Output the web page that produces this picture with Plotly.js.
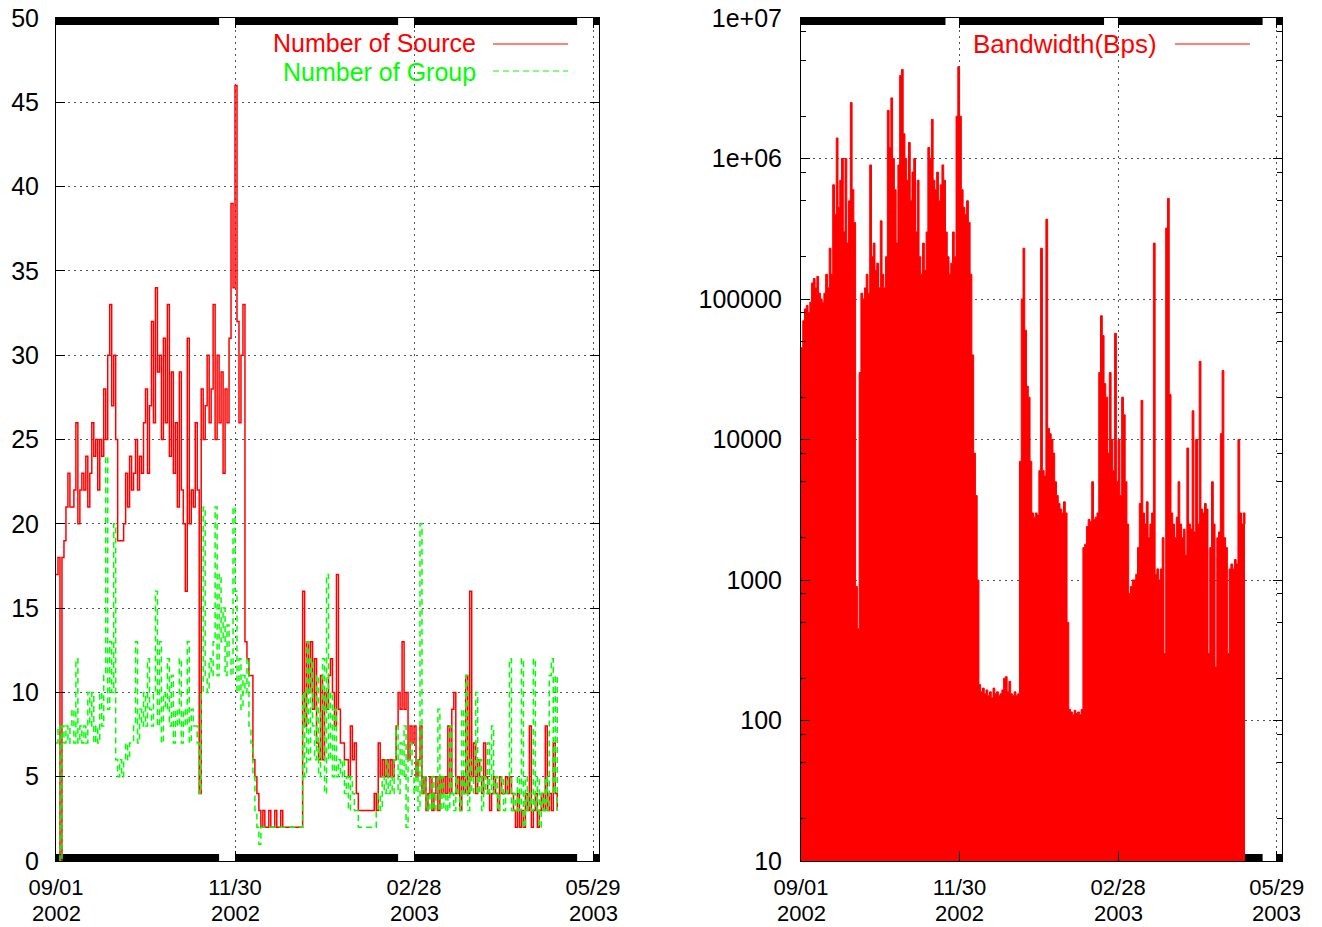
<!DOCTYPE html>
<html>
<head>
<meta charset="utf-8">
<script src="https://cdn.plot.ly/plotly-3.0.1.min.js"></script>
<style>html,body{margin:0;padding:0;background:#fff}#chart{width:1322px;height:927px}</style>
</head>
<body>
<div id="chart"></div>
<script>
// ---- data (one value per day, starting 2002-09-01) ----
const startDate = '2002-09-01';

const source = [
  17, 18, 0, 18, 19, 21, 23, 21, 21, 22,
  26, 20, 22, 23, 22, 24, 21, 23, 26, 24,
  25, 22, 25, 24, 28, 25, 30, 33, 27, 30,
  25, 19, 19, 19, 20, 23, 21, 24, 22, 23,
  25, 22, 24, 23, 26, 28, 23, 27, 32, 26,
  34, 29, 30, 25, 31, 26, 33, 24, 29, 23,
  26, 21, 29, 22, 20, 16, 31, 20, 22, 21,
  26, 22, 4, 28, 25, 27, 30, 26, 28, 33,
  25, 30, 26, 29, 23, 28, 26, 31, 39, 34,
  46, 32, 26, 30, 33, 13, 12, 11, 11, 6,
  5, 4, 3, 2, 3, 2, 2, 3, 2, 2,
  3, 2, 2, 3, 2, 2, 2, 2, 2, 2,
  2, 2, 2, 2, 16, 8, 13, 10, 13, 9,
  12, 7, 6, 11, 6, 10, 9, 11, 12, 10,
  8, 17, 9, 7, 7, 6, 6, 5, 8, 6,
  7, 4, 3, 3, 3, 3, 3, 3, 3, 3,
  4, 3, 7, 5, 6, 5, 6, 5, 6, 5,
  6, 8, 10, 9, 13, 9, 10, 6, 8, 7,
  8, 5, 6, 8, 4, 5, 3, 4, 5, 3,
  4, 5, 3, 5, 4, 5, 4, 8, 4, 9,
  10, 4, 5, 3, 5, 4, 11, 4, 16, 5,
  7, 4, 6, 5, 4, 7, 5, 4, 3, 4,
  5, 4, 3, 5, 4, 4, 5, 4, 5, 4,
  3, 2, 4, 2, 3, 2, 4, 3, 8, 2,
  3, 4, 2, 3, 4, 3, 8, 3, 4, 3,
  7, 4, 3
];

const group = [
  7, 8, 0, 8, 7, 8, 7, 8, 9, 7,
  12, 7, 8, 7, 8, 7, 10, 8, 10, 7,
  8, 7, 10, 8, 11, 24, 9, 13, 10, 20,
  6, 5, 6, 5, 6, 7, 6, 7, 7, 8,
  13, 7, 9, 8, 10, 8, 12, 9, 8, 10,
  16, 8, 13, 7, 10, 9, 12, 8, 11, 7,
  9, 8, 12, 7, 9, 8, 13, 7, 9, 8,
  8, 7, 4, 10, 21, 11, 10, 12, 11, 13,
  21, 11, 17, 13, 15, 11, 14, 12, 11, 21,
  16, 10, 12, 9, 11, 10, 12, 8, 7, 5,
  3, 2, 1, 2, 2, 2, 2, 2, 2, 2,
  2, 2, 2, 2, 2, 2, 2, 2, 2, 2,
  2, 2, 2, 2, 10, 5, 13, 6, 12, 8,
  6, 11, 5, 9, 12, 4, 17, 6, 10, 5,
  9, 5, 6, 5, 6, 4, 5, 3, 5, 4,
  3, 3, 2, 2, 2, 2, 2, 2, 2, 2,
  2, 3, 4, 3, 5, 4, 6, 4, 5, 4,
  6, 8, 4, 7, 5, 8, 2, 6, 7, 5,
  4, 6, 3, 20, 4, 5, 3, 4, 3, 5,
  3, 4, 9, 3, 5, 3, 4, 3, 8, 4,
  3, 5, 4, 3, 9, 4, 11, 3, 6, 4,
  5, 10, 4, 6, 3, 5, 4, 7, 4, 8,
  4, 5, 3, 4, 5, 3, 4, 5, 12, 3,
  4, 3, 5, 3, 12, 2, 5, 3, 4, 3,
  12, 3, 5, 2, 4, 3, 5, 3, 11, 12,
  4, 11, 3
];

const bandwidth = [
  45000, 70000, 85000, 90000, 80000, 95000, 130000, 140000, 120000, 145000,
  110000, 100000, 95000, 110000, 150000, 120000, 230000, 150000, 650000, 400000,
  1400000, 450000, 700000, 1000000, 300000, 1000000, 250000, 500000, 2500000, 600000,
  350000, 900, 450, 30000, 110000, 100000, 120000, 150000, 110000, 900000,
  200000, 250000, 160000, 180000, 120000, 360000, 150000, 120000, 200000, 2200000,
  1200000, 2700000, 1000000, 600000, 250000, 900000, 3900000, 4300000, 1500000, 1000000,
  700000, 1300000, 500000, 800000, 1000000, 300000, 700000, 200000, 150000, 250000,
  160000, 300000, 1200000, 1000000, 1900000, 700000, 600000, 800000, 500000, 650000,
  900000, 700000, 300000, 200000, 150000, 180000, 300000, 200000, 2000000, 4500000,
  2000000, 600000, 450000, 400000, 500000, 350000, 150000, 40000, 8000, 4000,
  1000, 180, 160, 170, 155, 165, 150, 160, 145, 170,
  155, 160, 150, 155, 165, 200, 205, 160, 190, 155,
  150, 160, 150, 155, 7000, 100000, 230000, 60000, 24000, 20000,
  7000, 3000, 2800, 3000, 2900, 6000, 230000, 6000, 5500, 370000,
  12000, 11000, 10000, 8000, 5000, 4000, 3500, 3200, 3000, 3600,
  3000, 500, 120, 115, 110, 118, 112, 115, 110, 120,
  1700, 1800, 2400, 2700, 2600, 5000, 2700, 2800, 3000, 30000,
  76000, 55000, 25000, 20000, 8000, 30000, 10000, 6000, 57000, 5000,
  10000, 4000, 20000, 15000, 5000, 2500, 800, 900, 1000, 1000,
  1100, 1700, 3500, 19000, 3000, 2500, 3600, 2000, 2500, 3000,
  250000, 1100, 1200, 1000, 1200, 2000, 300, 320000, 520000, 21000,
  3000, 2500, 2000, 2800, 5000, 2500, 2000, 2300, 1500, 8700,
  2500, 2300, 16000, 2200, 10000, 2500, 36000, 3200, 3000, 3500,
  3200, 300, 1700, 5000, 2500, 240, 2000, 2200, 11000, 31000,
  2000, 1700, 300, 1200, 1300, 1200, 1400, 1300, 10000, 3000,
  2500, 3000, 2500
];

// ---- tick labels / axis values ----
const xRange = ['2002-09-01', '2003-06-01'];
const xTickDates = ['2002-09-01', '2002-11-30', '2003-02-28', '2003-05-29'];
const xTickDays = ['09/01', '11/30', '02/28', '05/29'];
const xTickYears = ['2002', '2002', '2003', '2003'];
const leftYTicks = [0, 5, 10, 15, 20, 25, 30, 35, 40, 45, 50];
const rightYTicks = [10, 100, 1000, 10000, 100000, 1000000, 10000000];
const rightYTickText = ['10', '100', '1000', '10000', '100000', '1e+06', '1e+07'];
const rightMinorTicks = [20, 50, 80, 200, 500, 800, 2000, 5000, 8000, 20000, 50000, 80000,
  200000, 500000, 800000, 2000000, 5000000, 8000000];
const frameBarSpans = [['2002-09-01', '2002-11-22'], ['2002-11-30', '2003-02-20'],
  ['2003-02-28', '2003-05-21'], ['2003-05-29', '2003-06-01']];

// sample dates (daily)
const t0 = Date.parse(startDate + 'T00:00:00Z');
const days = source.map((_, i) => new Date(t0 + i * 864e5).toISOString().slice(0, 10));

const FONT = 'Liberation Sans, Arial, Helvetica, sans-serif';
const tickFont = {family: FONT, size: 25, color: '#000'};
const xTickFont = {family: FONT, size: 22, color: '#000'};
const gridDash = '2px,4px';
const W = 1322, PT = 18, PB = 861, PH = PB - PT;
const px = v => v / W;
const py = v => (PB - v) / PH;

const traces = [
  {x: days, y: source, xaxis: 'x', yaxis: 'y', type: 'scatter', mode: 'lines',
   line: {color: '#ff0000', width: 1.5, shape: 'hv'}, name: 'Number of Source'},
  {x: days, y: group, xaxis: 'x', yaxis: 'y', type: 'scatter', mode: 'lines',
   line: {color: '#00ff00', width: 1.5, shape: 'hv', dash: '6px,4px'}, name: 'Number of Group'},
  {x: days, y: bandwidth, xaxis: 'x2', yaxis: 'y2', type: 'scatter', mode: 'lines',
   line: {color: '#ff0000', width: 1, shape: 'hv'}, fill: 'tozeroy', fillcolor: '#ff0000',
   name: 'Bandwidth(Bps)'}
];

function xAxisMain(domain, anchor) {
  return {
    domain: domain, anchor: anchor, type: 'date', range: xRange,
    tickmode: 'array', tickvals: xTickDates, ticktext: xTickDays,
    ticks: 'inside', ticklen: 10, tickwidth: 1, tickcolor: '#000',
    showline: true, linecolor: '#000', linewidth: 1, mirror: 'allticks',
    showgrid: true, gridcolor: '#555', gridwidth: 1, griddash: gridDash,
    zeroline: false, tickfont: xTickFont, ticklabelstandoff: 7, automargin: false,
    fixedrange: true
  };
}

const leftDom = [px(56), px(599)];
const rightDom = [px(801), px(1282)];

const shapes = [];
function addBars(xref) {
  frameBarSpans.forEach(s => {
    shapes.push({type: 'rect', xref: xref, yref: 'paper', x0: s[0], x1: s[1], y0: 1 - 7 / PH, y1: 1,
      fillcolor: '#000', line: {width: 0}, layer: 'below'});
    shapes.push({type: 'rect', xref: xref, yref: 'paper', x0: s[0], x1: s[1], y0: 0, y1: 7 / PH,
      fillcolor: '#000', line: {width: 0}, layer: 'below'});
  });
}
addBars('x');
addBars('x2');
// legend keys
shapes.push({type: 'line', xref: 'paper', yref: 'paper', x0: px(493), x1: px(568), y0: py(44), y1: py(44),
  line: {color: '#ff0000', width: 1}});
shapes.push({type: 'line', xref: 'paper', yref: 'paper', x0: px(493), x1: px(568), y0: py(71), y1: py(71),
  line: {color: '#00ff00', width: 1.2, dash: '6px,4px'}});
shapes.push({type: 'line', xref: 'paper', yref: 'paper', x0: px(1175), x1: px(1250), y0: py(44), y1: py(44),
  line: {color: '#ff0000', width: 1}});

const annotations = [
  {xref: 'paper', yref: 'paper', x: px(477), y: py(43), xanchor: 'right', yanchor: 'middle', borderpad: 0,
   text: 'Number of Source', showarrow: false, font: {family: FONT, size: 25, color: '#ff0000'}},
  {xref: 'paper', yref: 'paper', x: px(477), y: py(72), xanchor: 'right', yanchor: 'middle', borderpad: 0,
   text: 'Number of Group', showarrow: false, font: {family: FONT, size: 25, color: '#00ff00'}},
  {xref: 'paper', yref: 'paper', x: px(1158), y: py(44), xanchor: 'right', yanchor: 'middle', borderpad: 0,
   text: 'Bandwidth(Bps)', showarrow: false, font: {family: FONT, size: 26, color: '#ff0000'}}
];
// second line of the x tick labels (years)
['x', 'x2'].forEach(xr => {
  xTickDates.forEach((d, i) => {
    annotations.push({xref: xr, yref: 'paper', x: d, y: py(914), xanchor: 'center', yanchor: 'middle',
      borderpad: 0, text: xTickYears[i], showarrow: false, font: xTickFont});
  });
});

const layout = {
  width: 1322, height: 927,
  margin: {l: 0, r: 0, t: PT, b: 927 - PB, pad: 0},
  paper_bgcolor: '#fff', plot_bgcolor: '#fff',
  showlegend: false,
  font: tickFont,
  xaxis: xAxisMain(leftDom, 'y'),
  yaxis: {
    domain: [0, 1], anchor: 'x', range: [0, 50],
    tickmode: 'array', tickvals: leftYTicks,
    ticks: 'inside', ticklen: 9, tickwidth: 1, tickcolor: '#000',
    showline: true, linecolor: '#000', linewidth: 1, mirror: 'allticks',
    showgrid: true, gridcolor: '#555', gridwidth: 1, griddash: gridDash,
    zeroline: false, tickfont: tickFont, ticklabelstandoff: 11, automargin: false
  },
  xaxis2: xAxisMain(rightDom, 'y2'),
  yaxis2: {
    domain: [0, 1], anchor: 'x2', type: 'log', range: [1, 7],
    tickmode: 'array', tickvals: rightYTicks, ticktext: rightYTickText,
    ticks: 'inside', ticklen: 9, tickwidth: 1, tickcolor: '#000',
    minor: {tickmode: 'array', tickvals: rightMinorTicks, ticks: 'inside', ticklen: 5,
            tickwidth: 1, tickcolor: '#000', showgrid: false},
    showline: true, linecolor: '#000', linewidth: 1, mirror: 'allticks',
    showgrid: true, gridcolor: '#555', gridwidth: 1, griddash: gridDash,
    zeroline: false, tickfont: tickFont, ticklabelstandoff: 13, automargin: false
  },
  shapes: shapes,
  annotations: annotations
};

Plotly.newPlot('chart', traces, layout, {staticPlot: true, displayModeBar: false});
</script>
</body>
</html>
